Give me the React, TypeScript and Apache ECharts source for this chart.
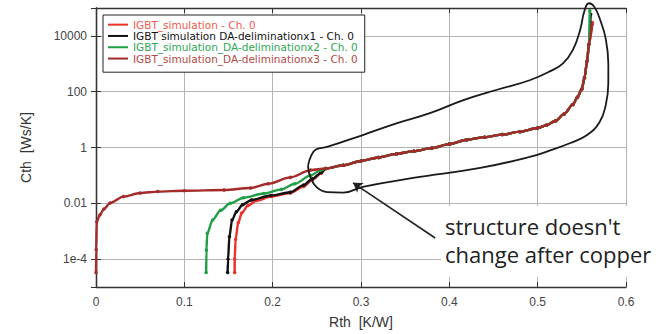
import React, { useEffect, useRef } from 'react';
import * as echarts from 'echarts';

// ---- data ----
const seriesNames = [
  'IGBT_simulation - Ch. 0',
  'IGBT simulation DA-deliminationx1 - Ch. 0',
  'IGBT_simulation_DA-deliminationx2 - Ch. 0',
  'IGBT_simulation_DA-deliminationx3 - Ch. 0',
];

// shared upper part (all four curves overlap there)
const upperRth = [0.26, 0.28, 0.30, 0.32, 0.34, 0.36, 0.38, 0.40, 0.42, 0.44, 0.46, 0.48, 0.50, 0.51, 0.52, 0.53, 0.54, 0.545, 0.55, 0.553, 0.556, 0.558];
const upperCth = [0.178, 0.23, 0.33, 0.44, 0.59, 0.74, 0.95, 1.32, 1.9, 2.35, 2.9, 3.7, 5.0, 6.3, 8.9, 16, 35, 63, 126, 316, 1260, 5000];

// Ch. 0 (red)
const lowRthCh0 = [0.157, 0.157, 0.158, 0.161, 0.165, 0.172, 0.182, 0.198, 0.22, 0.235, 0.245, 0.255];
const lowCthCh0 = [3.3e-5, 1e-4, 5e-4, 2e-3, 4.5e-3, 8.3e-3, 0.0126, 0.0174, 0.0234, 0.04, 0.069, 0.12];
const endRthCh0 = [0.562];
const endCthCh0 = [3e4];

// x1 (black)
const lowRthX1 = [0.149, 0.1495, 0.151, 0.154, 0.159, 0.166, 0.176, 0.198, 0.22, 0.235, 0.245, 0.255];
const lowCthX1 = [3.3e-5, 1e-4, 6.3e-4, 2.5e-3, 5e-3, 8.9e-3, 0.0132, 0.019, 0.025, 0.045, 0.076, 0.126];
const endRthX1 = [0.56];
const endCthX1 = [6e4];

// x2 (green)
const lowRthX2 = [0.1247, 0.125, 0.126, 0.132, 0.141, 0.152, 0.167, 0.19, 0.21, 0.225, 0.243, 0.254];
const lowCthX2 = [3.3e-5, 2.1e-4, 8.5e-4, 2.5e-3, 5.6e-3, 0.01, 0.0158, 0.0224, 0.0316, 0.05, 0.1, 0.151];
const endRthX2 = [0.559];
const endCthX2 = [8e4];

// x3 (dark red)
const lowRthX3 = [0, 0.0002, 0.0008, 0.0045, 0.009, 0.016, 0.031, 0.05, 0.07, 0.1, 0.145, 0.175, 0.195, 0.22, 0.243];
const lowCthX3 = [3.3e-5, 2.2e-4, 2.2e-3, 3.9e-3, 6.3e-3, 0.0102, 0.0174, 0.0234, 0.0263, 0.0282, 0.03, 0.0355, 0.05, 0.085, 0.155];
const endRthX3 = [0.5615];
const endCthX3 = [2.5e4];

// hand-drawn outline annotation (closed loop)
const outlineRth = [0.240, 0.2435, 0.2490, 0.2616, 0.302, 0.341, 0.378, 0.416, 0.455, 0.491, 0.515, 0.529, 0.540, 0.548, 0.553, 0.558, 0.564, 0.571, 0.577, 0.580, 0.580, 0.577, 0.570, 0.556, 0.537, 0.515, 0.491, 0.435, 0.359, 0.302, 0.280, 0.262, 0.250, 0.2425, 0.240];
const outlineCth = [0.219, 0.5, 0.85, 1.05, 2.8, 7.5, 17, 50, 120, 257, 560, 1050, 3200, 16000, 80000, 1.48e5, 1.12e5, 35500, 8000, 1000, 200, 32, 8, 2.8, 1.45, 0.8, 0.457, 0.186, 0.081, 0.039, 0.024, 0.025, 0.037, 0.09, 0.219];

// arrow annotation (tail, tip)
const arrowRth = [0.384, 0.291];
const arrowCth = [5.7e-4, 0.054];

const xTickMin = 0;
const xTickMax = 0.6;
const xTickStep = 0.1;
const yExtent = [1e-5, 1e5];
const yTickExponents = [-4, -2, 0, 2, 4];
const yTickLabels = ['1e-4', '0.01', '1', '100', '10000'];

const lineColors = ['#e8322a', '#111111', '#1f9e45', '#a52a2a'];
const textColors = ['#ee5a4c', '#111111', '#2ea854', '#b24a46'];

const zip = (xs: number[], ys: number[]) => xs.map((x, i) => [x, ys[i]]);

export default function App() {
  const ref = useRef<HTMLDivElement>(null);
  useEffect(() => {
    document.body.style.margin = '0';
    if (!ref.current) return;
    const chart = echarts.init(ref.current, undefined, { renderer: 'svg' });
    const font = '"Liberation Sans", Arial, sans-serif';
    const frame = '#333';

    const curves = [
      zip([...lowRthCh0, ...upperRth, ...endRthCh0], [...lowCthCh0, ...upperCth, ...endCthCh0]),
      zip([...lowRthX1, ...upperRth, ...endRthX1], [...lowCthX1, ...upperCth, ...endCthX1]),
      zip([...lowRthX2, ...upperRth, ...endRthX2], [...lowCthX2, ...upperCth, ...endCthX2]),
      zip([...lowRthX3, ...upperRth, ...endRthX3], [...lowCthX3, ...upperCth, ...endCthX3]),
    ];

    const yLabel = (v: number) => {
      const l = Math.log10(v);
      const e = Math.round(l);
      const i = yTickExponents.indexOf(e);
      return i >= 0 && Math.abs(l - e) < 0.01 ? yTickLabels[i] : '';
    };

    const option: any = {
      animation: false,
      backgroundColor: '#fff',
      textStyle: { fontFamily: font },
      grid: { left: 96, right: 36, top: 8, bottom: 47, containLabel: false },
      legend: {
        data: seriesNames.map((n, i) => ({ name: n, textStyle: { color: textColors[i] } })),
        orient: 'vertical',
        left: 103,
        top: 15,
        padding: [4, 7, 8, 5],
        itemGap: 0,
        itemWidth: 20,
        itemHeight: 2,
        icon: 'rect',
        borderColor: '#222',
        borderWidth: 1,
        backgroundColor: '#fff',
        selectedMode: false,
        textStyle: { fontSize: 10.5, lineHeight: 11.3, fontFamily: '"DejaVu Sans", sans-serif' },
      },
      xAxis: [
        {
          type: 'value', min: xTickMin, max: xTickMax, interval: xTickStep,
          name: 'Rth  [K/W]', nameLocation: 'middle', nameGap: 28,
          nameTextStyle: { fontSize: 14, color: '#333', fontFamily: font },
          axisLine: { show: true, lineStyle: { color: frame, width: 1.3 } },
          axisTick: { show: true, inside: true, length: 5, lineStyle: { color: frame } },
          axisLabel: { fontSize: 12, color: '#444', margin: 9, formatter: (v: number) => String(+v.toFixed(1)) },
          splitLine: { show: true, lineStyle: { color: '#b4b4b4', width: 1 } },
        },
        {
          type: 'value', position: 'top', min: xTickMin, max: xTickMax, interval: xTickStep,
          axisLine: { show: true, lineStyle: { color: frame, width: 1.3 } },
          axisTick: { show: true, inside: true, length: 5, lineStyle: { color: frame } },
          axisLabel: { show: false },
          splitLine: { show: false },
        },
      ],
      yAxis: [
        {
          type: 'log', logBase: 100, min: yExtent[0], max: yExtent[1],
          name: 'Cth  [Ws/K]', nameLocation: 'middle', nameGap: 63,
          nameTextStyle: { fontSize: 14, color: '#333', fontFamily: font },
          axisLine: { show: true, lineStyle: { color: frame, width: 1.3 } },
          axisTick: { show: true, inside: true, length: 5, lineStyle: { color: frame } },
          axisLabel: { fontSize: 12, color: '#444', margin: 9, formatter: yLabel, showMinLabel: false, showMaxLabel: false },
          splitLine: { show: true, lineStyle: { color: '#b4b4b4', width: 1 } },
          minorTick: { show: false },
        },
        {
          type: 'log', logBase: 100, min: yExtent[0], max: yExtent[1], position: 'right',
          axisLine: { show: true, lineStyle: { color: frame, width: 1.3 } },
          axisTick: { show: true, inside: true, length: 5, lineStyle: { color: frame } },
          axisLabel: { show: false },
          splitLine: { show: false },
        },
      ],
      series: [
        ...curves.map((d, i) => ({
          name: seriesNames[i],
          type: 'line',
          data: d,
          smooth: 0.3,
          smoothMonotone: 'x',
          symbol: 'circle',
          symbolSize: 3.5,
          showAllSymbol: true,
          itemStyle: { color: lineColors[i] },
          lineStyle: { color: lineColors[i], width: 2.4 },
          z: 3 + i,
        })),
        {
          name: 'outline',
          type: 'line',
          data: zip(outlineRth, outlineCth),
          smooth: 0.45,
          symbol: 'none',
          clip: false,
          lineStyle: { color: '#1a1a1a', width: 1.8 },
          z: 10,
          markLine: {
            silent: true,
            symbol: ['none', 'arrow'],
            symbolSize: 9,
            label: { show: false },
            lineStyle: { color: '#222', width: 1.6, type: 'solid' },
            data: [[{ coord: [arrowRth[0], arrowCth[0]] }, { coord: [arrowRth[1], arrowCth[1]] }]],
          },
        },
      ],
      graphic: [
        {
          type: 'rect', z: 100,
          shape: { x: 441, y: 206, width: 221, height: 71 },
          style: { fill: '#fff' },
        },
        {
          type: 'text', z: 101, x: 445, y: 212,
          style: {
            text: "structure doesn't\nchange after copper",
            font: '22px "Open Sans"',
            fill: '#222',
            lineHeight: 28,
            textVerticalAlign: 'top',
          },
        },
      ],
    };
    chart.setOption(option);
    return () => chart.dispose();
  }, []);
  return <div ref={ref} style={{ width: 662, height: 334 }} />;
}
